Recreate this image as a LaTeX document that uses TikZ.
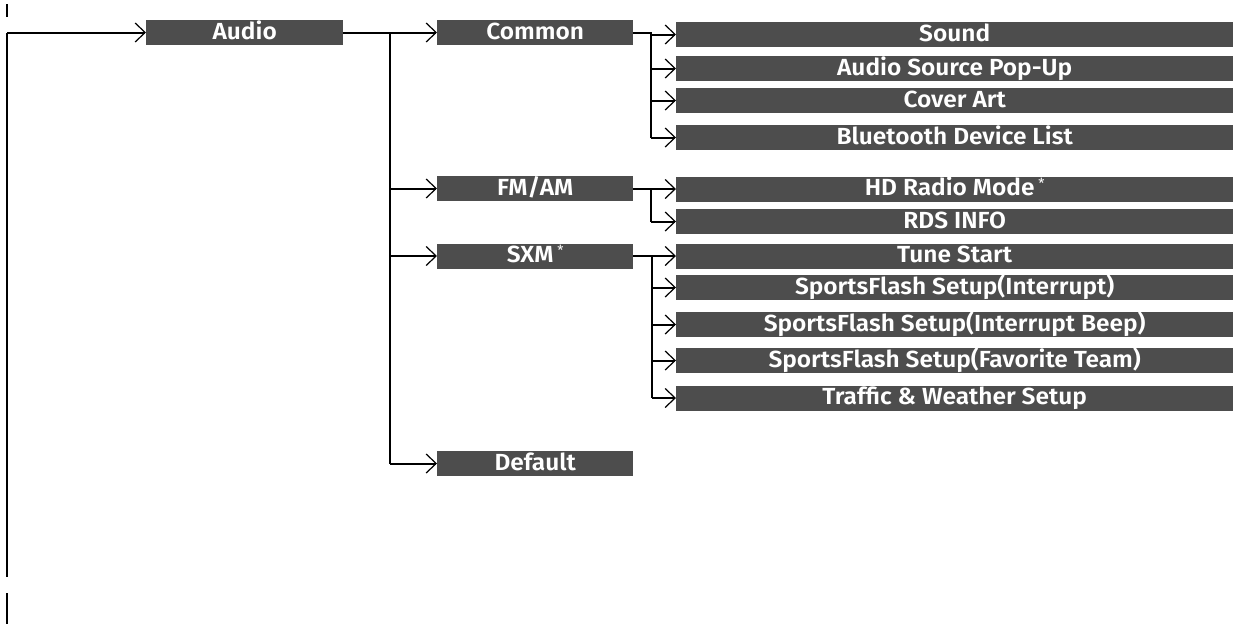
\documentclass[tikz,border=0pt]{standalone}
\usepackage{fontspec}
\setmainfont{Fira Sans}[BoldFont={Fira Sans SemiBold},BoldFeatures={FakeStretch=1.05}]
\usetikzlibrary{arrows.meta}
\definecolor{boxgray}{RGB}{77,77,77}
\newcommand\supstar{\,\raisebox{7pt}{\fontsize{14}{14}\selectfont\mdseries*}}
\begin{document}
\begin{tikzpicture}[x=1pt,y=-1pt,
  box/.style={fill=boxgray, text=white, font=\fontsize{23.3}{23.3}\selectfont\bfseries,
    inner sep=0pt, minimum height=25pt, text height=18pt, text depth=5pt, anchor=west},
  midbox/.style={box, minimum width=196pt},
  widebox/.style={box, minimum width=557pt},
  conn/.style={line width=2pt},
  arr/.style={line width=2pt, -{Straight Barb[length=10pt,width=19pt,line width=1.2pt]}},
]
\useasboundingbox (0,0) rectangle (1233,624);

% level 1
\node[box, minimum width=197pt] (audio) at (146,32.5) {Audio};
% level 2
\node[midbox] (common) at (437,32.5) {Common};
\node[midbox] (fmam) at (437,188.5) {FM/AM};
\node[midbox] (sxm) at (437,256) {SXM\supstar};
\node[midbox] (default) at (437,463.5) {Default};
% level 3
\node[widebox] (sound) at (676,34.5) {Sound};
\node[widebox] (popup) at (676,68.5) {Audio Source Pop-Up};
\node[widebox] (cover) at (676,100.5) {Cover Art};
\node[widebox] (bt) at (676,137.5) {Bluetooth Device List};
\node[widebox] (hd) at (676,189) {HD Radio Mode\supstar};
\node[widebox] (rds) at (676,221.5) {RDS INFO};
\node[widebox] (tune) at (676,256) {Tune Start};
\node[widebox] (sfint) at (676,287.5) {SportsFlash Setup(Interrupt)};
\node[widebox] (sfbeep) at (676,324.5) {SportsFlash Setup(Interrupt Beep)};
\node[widebox] (sffav) at (676,360.5) {SportsFlash Setup(Favorite Team)};
\node[widebox] (traffic) at (676,398) {Traffic \& Weather Setup};

% junction coordinates
\coordinate (L) at (7,32.5);
\coordinate (Lend) at (7,577);
\coordinate (Lb1) at (7,593);
\coordinate (Lb2) at (7,624);
\coordinate (Lt1) at (7,4);
\coordinate (Lt2) at (7,17);
\coordinate (j1) at (390,0);
\coordinate (j2) at (651,0);
\coordinate (j3) at (652,0);

% left spine
\draw[line width=1.5pt] (Lt1) -- (Lt2);
\draw[conn] (L) -- (Lend);
\draw[conn] (Lb1) -- (Lb2);
\draw[arr] (L) -- (audio.west);

% audio -> level 2
\draw[conn] (audio.east) -- (j1 |- audio.east) -- (j1 |- default.west);
\foreach \n in {common,fmam,sxm,default}
  \draw[arr] (j1 |- \n.west) -- (\n.west);

% common -> children
\draw[conn] (common.east) -- (j2 |- common.east) -- (j2 |- bt.west);
\foreach \n in {sound,popup,cover,bt}
  \draw[arr] (j2 |- \n.west) -- (\n.west);

% fm/am -> children
\draw[conn] (fmam.east) -- (j2 |- fmam.east) -- (j2 |- rds.west);
\foreach \n in {hd,rds}
  \draw[arr] (j2 |- \n.west) -- (\n.west);

% sxm -> children
\draw[conn] (sxm.east) -- (j3 |- sxm.east) -- (j3 |- traffic.west);
\foreach \n in {tune,sfint,sfbeep,sffav,traffic}
  \draw[arr] (j3 |- \n.west) -- (\n.west);
\end{tikzpicture}
\end{document}
